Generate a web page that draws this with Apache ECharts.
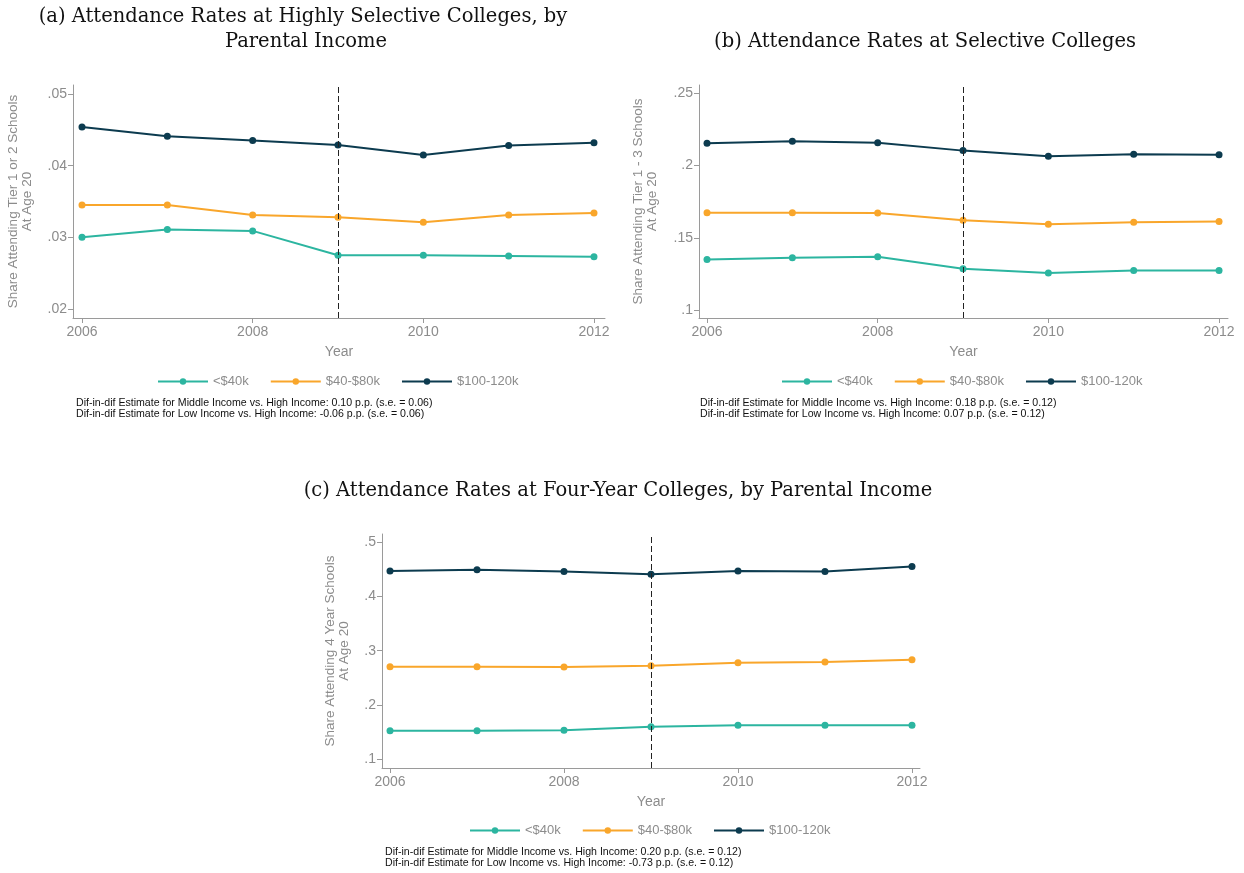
<!DOCTYPE html>
<html>
<head>
<meta charset="utf-8">
<script src="https://cdn.jsdelivr.net/npm/echarts@6/dist/echarts.min.js"></script>
<style>
  html, body { margin: 0; padding: 0; background: #fff; }
  #chart { width: 1244px; height: 873px; }
</style>
</head>
<body>
<div id="chart"></div>
<script>
// ---------- Data ----------
const years = [2006, 2007, 2008, 2009, 2010, 2011, 2012];
const seriesNames = ['<$40k', '$40-$80k', '$100-120k'];

// (a) Highly selective colleges
const lowA  = [0.0300, 0.0311, 0.0309, 0.0275, 0.0275, 0.0274, 0.0273];
const midA  = [0.0345, 0.0345, 0.0331, 0.0328, 0.0321, 0.0331, 0.0334];
const highA = [0.0454, 0.0441, 0.0435, 0.0429, 0.0415, 0.0428, 0.0432];

// (b) Selective colleges
const lowB  = [0.1349, 0.1362, 0.1369, 0.1286, 0.1256, 0.1274, 0.1274];
const midB  = [0.1674, 0.1674, 0.1672, 0.1621, 0.1593, 0.1607, 0.1612];
const highB = [0.2154, 0.2168, 0.2158, 0.2103, 0.2064, 0.2078, 0.2075];

// (c) Four-year colleges
const lowC  = [0.1523, 0.1523, 0.1535, 0.1597, 0.1628, 0.1628, 0.1628];
const midC  = [0.2705, 0.2705, 0.2698, 0.2723, 0.2778, 0.2791, 0.2834];
const highC = [0.4465, 0.4489, 0.4458, 0.4409, 0.4465, 0.4458, 0.4551];

const policyYear = 2009;
const xTicks  = [2006, 2008, 2010, 2012];
const yTicksA = [0.02, 0.03, 0.04, 0.05];
const yTicksB = [0.10, 0.15, 0.20, 0.25];
const yTicksC = [0.1, 0.2, 0.3, 0.4, 0.5];

const titleA = ['(a) Attendance Rates at Highly Selective Colleges, by', 'Parental Income'];
const titleB = '(b) Attendance Rates at Selective Colleges';
const titleC = '(c) Attendance Rates at Four-Year Colleges, by Parental Income';
const yNameA = 'Share Attending Tier 1 or 2 Schools\nAt Age 20';
const yNameB = 'Share Attending Tier 1 - 3 Schools\nAt Age 20';
const yNameC = 'Share Attending 4 Year Schools\nAt Age 20';
const notesA = ['Dif-in-dif Estimate for Middle Income vs. High Income: 0.10 p.p. (s.e. = 0.06)',
                'Dif-in-dif Estimate for Low Income vs. High Income: -0.06 p.p. (s.e. = 0.06)'];
const notesB = ['Dif-in-dif Estimate for Middle Income vs. High Income: 0.18 p.p. (s.e. = 0.12)',
                'Dif-in-dif Estimate for Low Income vs. High Income: 0.07 p.p. (s.e. = 0.12)'];
const notesC = ['Dif-in-dif Estimate for Middle Income vs. High Income: 0.20 p.p. (s.e. = 0.12)',
                'Dif-in-dif Estimate for Low Income vs. High Income: -0.73 p.p. (s.e. = 0.12)'];

// ---------- Styling ----------
const colors = ['#2cb5a0', '#f9a62b', '#0c3b4f'];
const gray = '#8c8c8c';
const axisGray = '#9a9a9a';
const sans = 'Liberation Sans';
const serif = 'DejaVu Serif';

const fmtY = v => String(+v.toFixed(4)).replace(/^0\./, '.');

function xAxisCfg(gi, min, max) {
  return {
    type: 'value', gridIndex: gi, min: min, max: max,
    name: 'Year', nameLocation: 'middle', nameGap: 27,
    nameTextStyle: { color: gray, fontSize: 14, fontFamily: sans },
    axisLine: { show: true, lineStyle: { color: axisGray, width: 1 } },
    axisTick: { show: true, customValues: xTicks, length: 5, lineStyle: { color: axisGray } },
    axisLabel: { customValues: xTicks, color: gray, fontSize: 14, fontFamily: sans, margin: 7,
                 formatter: v => String(Math.round(v)) },
    splitLine: { show: false }
  };
}
function yAxisCfg(gi, min, max, ticks, name, gap) {
  return {
    type: 'value', gridIndex: gi, min: min, max: max,
    name: name, nameLocation: 'middle', nameGap: gap, nameRotate: 90,
    nameTextStyle: { color: gray, fontSize: 13.5, fontFamily: sans, lineHeight: 14, align: 'center' },
    axisLine: { show: true, lineStyle: { color: axisGray, width: 1 } },
    axisTick: { show: true, customValues: ticks, length: 5, lineStyle: { color: axisGray } },
    axisLabel: { customValues: ticks, color: gray, fontSize: 14, fontFamily: sans, margin: 6,
                 formatter: fmtY },
    splitLine: { show: false }
  };
}
function lineSeries(name, data, gi, ci, withMark) {
  const s = {
    type: 'line', name: name, xAxisIndex: gi, yAxisIndex: gi,
    data: years.map((y, i) => [y, data[i]]),
    symbol: 'circle', symbolSize: 7, showSymbol: true,
    lineStyle: { color: colors[ci], width: 2 },
    itemStyle: { color: colors[ci] },
    animation: false, z: 3
  };
  if (withMark) {
    s.markLine = {
      silent: true, symbol: ['none', 'none'],
      label: { show: false },
      lineStyle: { color: '#222', type: [6, 3], width: 1 },
      data: [{ xAxis: policyYear }],
      animation: false
    };
  }
  return s;
}
function legendCfg(left, top) {
  return {
    left: left, top: top, data: seriesNames, itemWidth: 50, itemHeight: 8, itemGap: 21,
    textStyle: { color: gray, fontSize: 13, fontFamily: sans },
    selectedMode: false
  };
}
function textEl(text, x, y, font, align, color) {
  return { type: 'text', x: x, y: y, silent: true,
    style: { text: text, font: font, textAlign: align, textVerticalAlign: 'middle', fill: color || '#111' } };
}

const option = {
  backgroundColor: '#fff',
  animation: false,
  grid: [
    { left: 73,  top: 85,  width: 532, height: 233, containLabel: false, outerBoundsMode: 'none' },
    { left: 699, top: 85,  width: 529, height: 233, containLabel: false, outerBoundsMode: 'none' },
    { left: 382, top: 534, width: 538, height: 234, containLabel: false, outerBoundsMode: 'none' }
  ],
  xAxis: [
    xAxisCfg(0, 2005.8945, 2012.129),
    xAxisCfg(1, 2005.906, 2012.105),
    xAxisCfg(2, 2005.908, 2012.092)
  ],
  yAxis: [
    yAxisCfg(0, 0.01874, 0.05126, yTicksA, yNameA, 39),
    yAxisCfg(1, 0.0945, 0.2557, yTicksB, yNameB, 39.5),
    yAxisCfg(2, 0.0839, 0.5148, yTicksC, yNameC, 31)
  ],
  legend: [ legendCfg(152, 370), legendCfg(776, 370), legendCfg(464, 819) ],
  series: [
    lineSeries(seriesNames[0], lowA, 0, 0, true),
    lineSeries(seriesNames[1], midA, 0, 1, false),
    lineSeries(seriesNames[2], highA, 0, 2, false),
    lineSeries(seriesNames[0], lowB, 1, 0, true),
    lineSeries(seriesNames[1], midB, 1, 1, false),
    lineSeries(seriesNames[2], highB, 1, 2, false),
    lineSeries(seriesNames[0], lowC, 2, 0, true),
    lineSeries(seriesNames[1], midC, 2, 1, false),
    lineSeries(seriesNames[2], highC, 2, 2, false)
  ],
  graphic: [
    textEl(titleA[0], 303, 17, '19.5px "' + serif + '"', 'center'),
    textEl(titleA[1], 306, 42, '19.5px "' + serif + '"', 'center'),
    textEl(titleB, 925, 42, '19.5px "' + serif + '"', 'center'),
    textEl(titleC, 618, 491, '19.5px "' + serif + '"', 'center'),
    textEl(notesA[0], 76, 403, '10.6px "' + sans + '"', 'left'),
    textEl(notesA[1], 76, 414, '10.6px "' + sans + '"', 'left'),
    textEl(notesB[0], 700, 403, '10.6px "' + sans + '"', 'left'),
    textEl(notesB[1], 700, 414, '10.6px "' + sans + '"', 'left'),
    textEl(notesC[0], 385, 852, '10.6px "' + sans + '"', 'left'),
    textEl(notesC[1], 385, 863, '10.6px "' + sans + '"', 'left')
  ]
};

const chart = echarts.init(document.getElementById('chart'), null, { renderer: 'canvas' });
chart.setOption(option);
</script>
</body>
</html>
